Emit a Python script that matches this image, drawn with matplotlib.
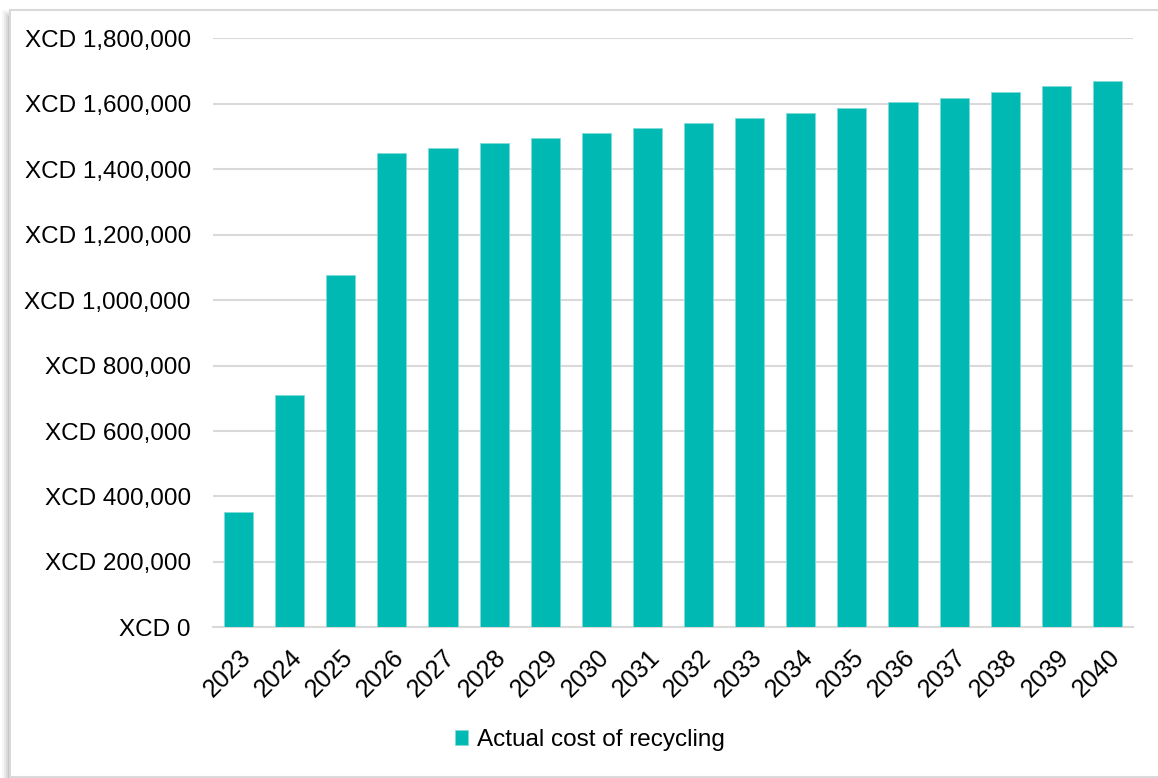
import matplotlib.pyplot as plt
import matplotlib.patches as patches
from matplotlib.ticker import FuncFormatter

plt.rcParams['font.family'] = ['Liberation Sans', 'DejaVu Sans']

years = [str(y) for y in range(2023, 2041)]
recycling_cost = [
    352000, 711000, 1077000, 1450000, 1465000, 1480000, 1494000, 1510000, 1525000,
    1540000, 1556000, 1572000, 1587000, 1604000, 1619000, 1636000, 1653000, 1670000,
]
series_label = 'Actual cost of recycling'

bar_color = '#00B9B3'
grid_color = '#D9D9D9'
W, H = 1158, 778

fig = plt.figure(figsize=(W / 100, H / 100), dpi=100)

# card frame with a soft shadow on the top/left
for i, a in enumerate([0.03, 0.05, 0.07, 0.09]):
    off = (4 - i) * 2
    fig.patches.append(patches.Rectangle(
        ((10 - off) / W, -0.01), 1.1, (777 - 9 + off) / H,
        transform=fig.transFigure, facecolor='black', alpha=a,
        edgecolor='none', zorder=0))
fig.patches.append(patches.Rectangle(
    (10 / W, 1 / H), 1.1, (777 - 9 - 1) / H,
    transform=fig.transFigure, facecolor='white', edgecolor=grid_color,
    linewidth=1.5, zorder=1))

ax = fig.add_axes([213 / W, 1 - 627.4 / H, (1133 - 213) / W, (627.4 - 38.3) / H])
ax.set_zorder(2)
ax.patch.set_visible(False)

x = range(len(years))
ax.bar(x, recycling_cost, width=0.57, color=bar_color, edgecolor='#7FDCD8',
       linewidth=0.6, label=series_label, zorder=3)

ax.set_xlim(-0.5, len(years) - 0.5)
ax.set_ylim(0, 1800000)
ax.set_yticks(range(0, 1800001, 200000))
ax.yaxis.set_major_formatter(FuncFormatter(lambda v, p: f'XCD {int(v):,}'))
ax.yaxis.grid(True, color=grid_color, linewidth=1.5)
ax.set_axisbelow(True)

ax.set_xticks(list(x))
ax.set_xticklabels(years, rotation=45, ha='right', rotation_mode='anchor')
ax.tick_params(axis='y', length=0, pad=16, labelsize=17.5)
ax.tick_params(axis='x', length=0, pad=13, labelsize=18)

for side in ['top', 'right', 'left']:
    ax.spines[side].set_visible(False)
ax.spines['bottom'].set_color(grid_color)
ax.spines['bottom'].set_linewidth(1.5)

fig.legend(loc='center', bbox_to_anchor=(590 / W, 1 - 740 / H), frameon=False,
           fontsize=17.5, handlelength=0.55, handleheight=0.55, handletextpad=0.35)

fig.savefig('out.png', dpi=100)
